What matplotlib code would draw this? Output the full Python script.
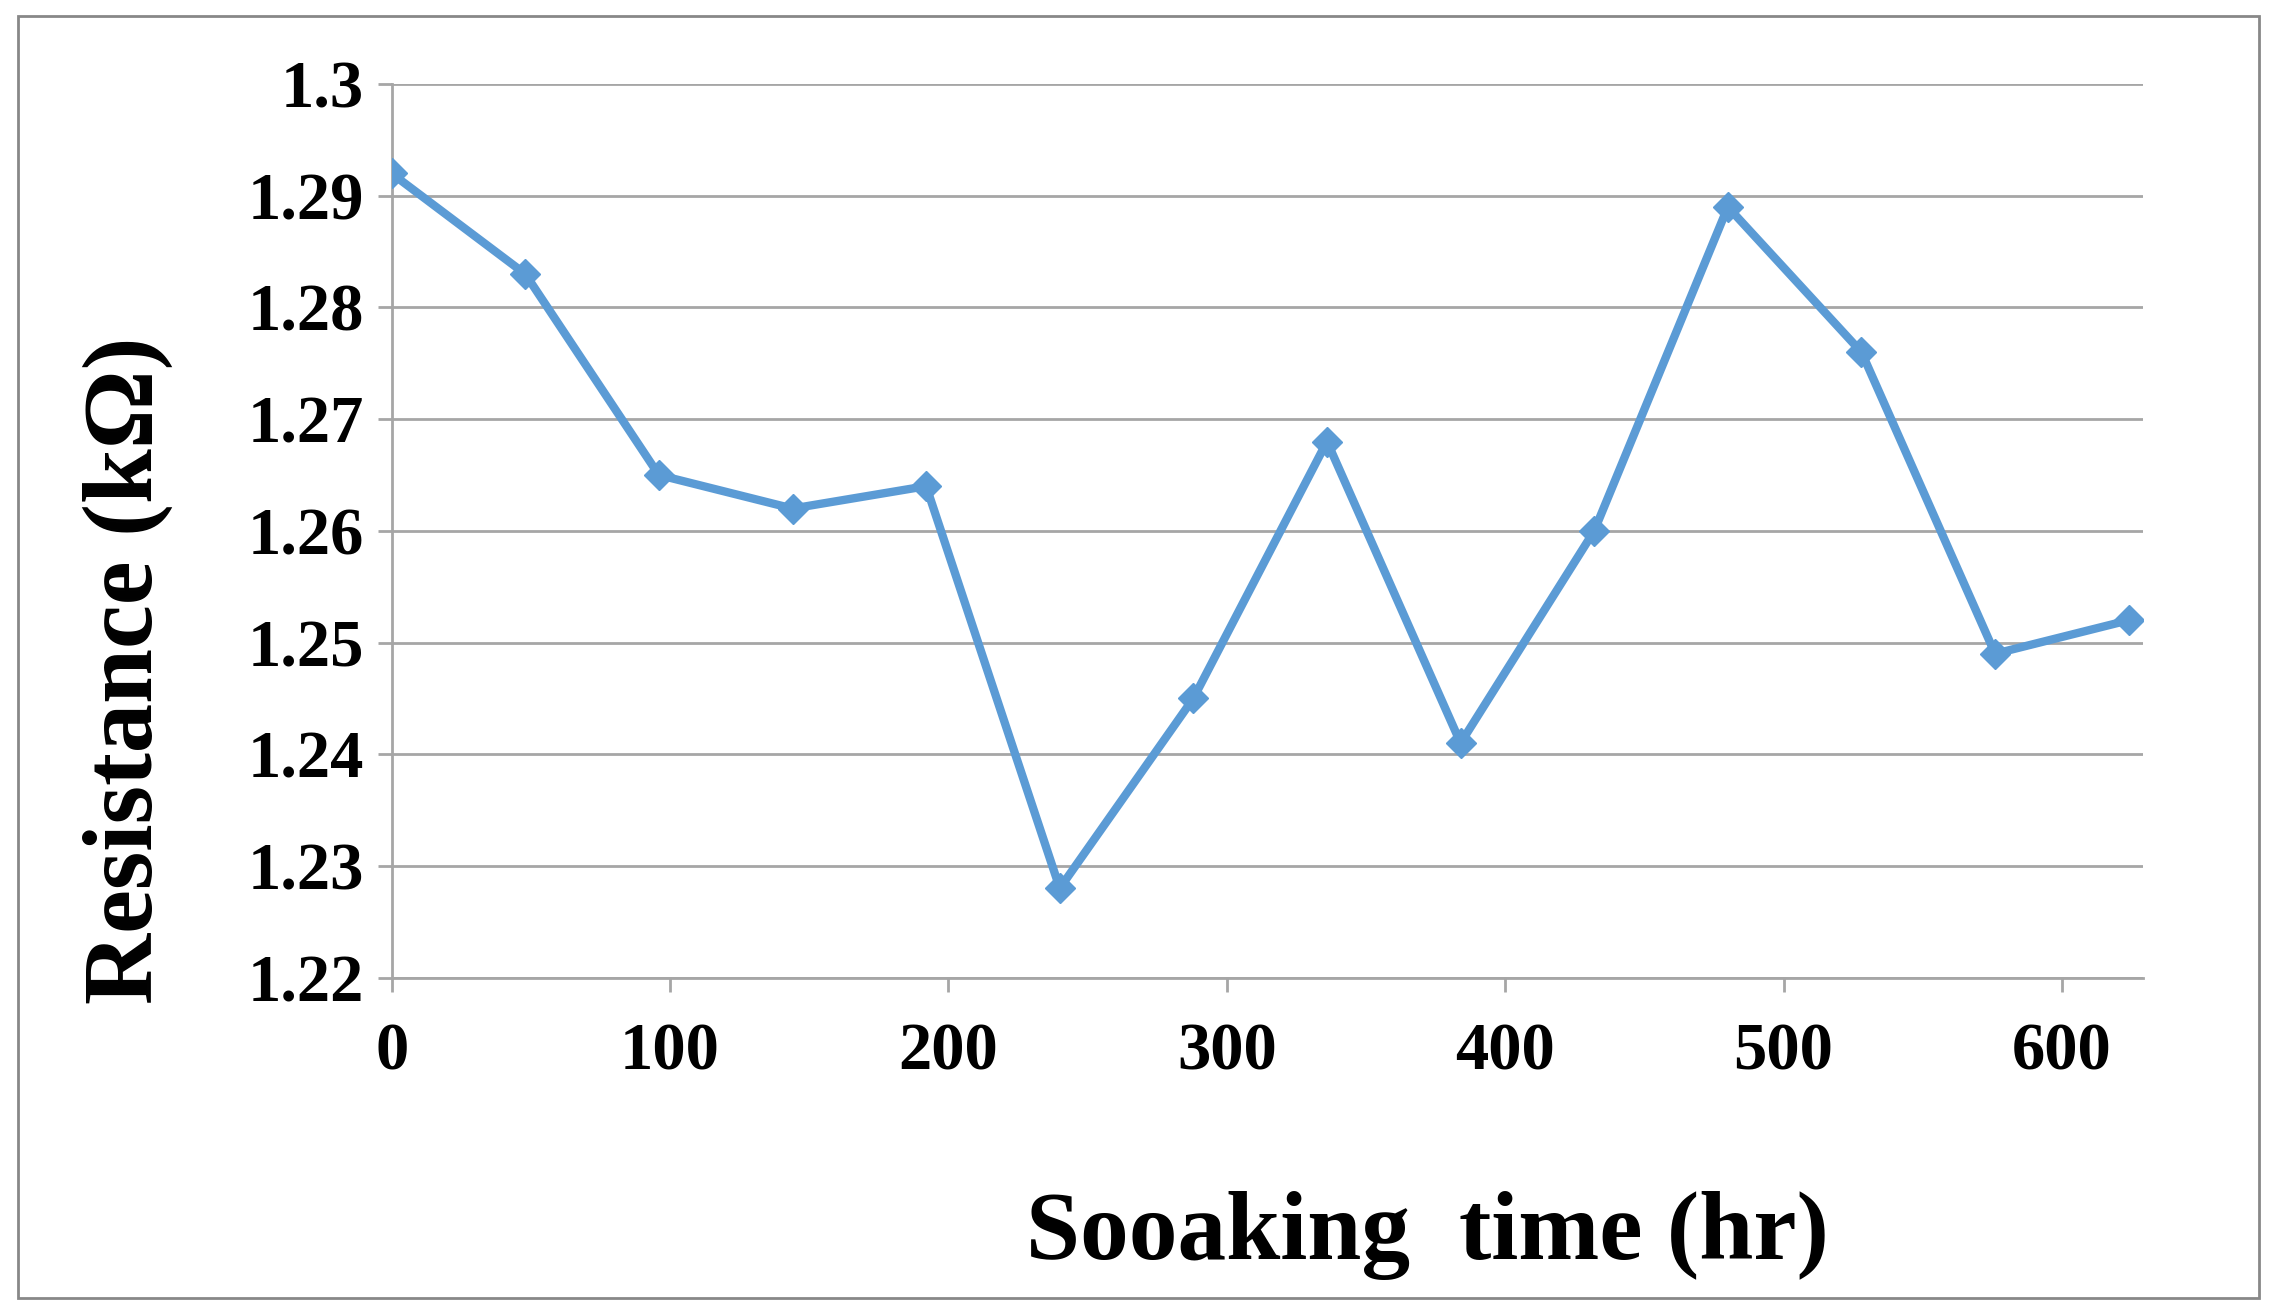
import matplotlib
matplotlib.use("Agg")
import matplotlib.pyplot as plt
from matplotlib.patches import Rectangle

hours = [0, 48, 96, 144, 192, 240, 288, 336, 384, 432, 480, 528, 576, 624]
resistance = [1.292, 1.283, 1.265, 1.262, 1.264, 1.228, 1.245, 1.268, 1.241, 1.260, 1.289, 1.276, 1.249, 1.252]
yticks = [1.22, 1.23, 1.24, 1.25, 1.26, 1.27, 1.28, 1.29, 1.3]
xticks = [0, 100, 200, 300, 400, 500, 600]

plt.rcParams['font.family'] = ['Liberation Serif', 'DejaVu Serif']
plt.rcParams['font.weight'] = 'bold'

fig = plt.figure(figsize=(22.77, 13.14), dpi=100)
fig.patches.append(Rectangle((0.008, 0.012), 0.984, 0.976, transform=fig.transFigure,
                             fill=False, edgecolor='#888888', linewidth=2))
ax = fig.add_axes([0.172, 0.256, 0.769, 0.680])
ax.plot(hours, resistance, color='#5B9BD5', linewidth=6, marker='D', markersize=15, zorder=3)
ax.set_xlim(0, 629)
ax.set_ylim(1.22, 1.3)
ax.set_yticks(yticks)
ax.set_yticklabels(['1.22', '1.23', '1.24', '1.25', '1.26', '1.27', '1.28', '1.29', '1.3'])
ax.set_xticks(xticks)
ax.grid(axis='y', color='#A6A6A6', linewidth=2)
ax.set_axisbelow(True)
for s in ['top', 'right']:
    ax.spines[s].set_visible(False)
for s in ['left', 'bottom']:
    ax.spines[s].set_color('#A6A6A6')
    ax.spines[s].set_linewidth(2)
ax.tick_params(axis='both', labelsize=48, color='#A6A6A6', width=2, length=10)
ax.tick_params(axis='x', pad=22)
ax.tick_params(axis='y', pad=10)
for t in ax.get_xticklabels() + ax.get_yticklabels():
    t.set_fontweight('bold')
fig.text(0.627, 0.06, 'Sooaking  time (hr)', ha='center', va='center', fontsize=70, fontweight='bold')
fig.text(0.056, 0.49, 'Resistance (kΩ)', ha='center', va='center', rotation=90, fontsize=71, fontweight='bold')
fig.savefig('out.png', dpi=100)
